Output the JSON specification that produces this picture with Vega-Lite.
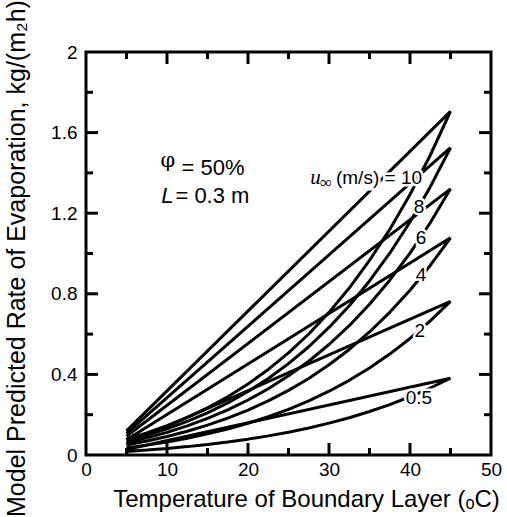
{
"$schema": "https://vega.github.io/schema/vega-lite/v6.json",
"width": 405, "height": 403, "autosize": "none",
"padding": {"left": 86, "top": 52, "right": 16, "bottom": 62},
"background": "white",
"config": {"view": {"stroke": "black", "strokeWidth": 3}, "font": "Liberation Sans",
 "axis": {"grid": false, "domain": false, "ticks": false, "labelColor": "black", "titleColor": "black"}},
"datasets": {
"curves": [
{"u":"10","o":0,"T":5,"r":0.12},{"u":"10","o":1,"T":45,"r":1.705},{"u":"10","o":2,"T":42.5,"r":1.4876},{"u":"10","o":3,"T":40,"r":1.2931},{"u":"10","o":4,"T":37.5,"r":1.1197},{"u":"10","o":5,"T":35,"r":0.9655},{"u":"10","o":6,"T":32.5,"r":0.8285},{"u":"10","o":7,"T":30,"r":0.7079},{"u":"10","o":8,"T":27.5,"r":0.6005},{"u":"10","o":9,"T":25,"r":0.5071},{"u":"10","o":10,"T":22.5,"r":0.4245},{"u":"10","o":11,"T":20,"r":0.3523},{"u":"10","o":12,"T":17.5,"r":0.2888},{"u":"10","o":13,"T":15,"r":0.2341},{"u":"10","o":14,"T":12.5,"r":0.1864},{"u":"10","o":15,"T":10,"r":0.1451},{"u":"10","o":16,"T":7.5,"r":0.1096},{"u":"10","o":17,"T":5,"r":0.0788},
{"u":"8","o":0,"T":5,"r":0.107},{"u":"8","o":1,"T":45,"r":1.525},{"u":"8","o":2,"T":42.5,"r":1.3306},{"u":"8","o":3,"T":40,"r":1.1566},{"u":"8","o":4,"T":37.5,"r":1.0015},{"u":"8","o":5,"T":35,"r":0.8636},{"u":"8","o":6,"T":32.5,"r":0.741},{"u":"8","o":7,"T":30,"r":0.6332},{"u":"8","o":8,"T":27.5,"r":0.5371},{"u":"8","o":9,"T":25,"r":0.4535},{"u":"8","o":10,"T":22.5,"r":0.3797},{"u":"8","o":11,"T":20,"r":0.3151},{"u":"8","o":12,"T":17.5,"r":0.2583},{"u":"8","o":13,"T":15,"r":0.2094},{"u":"8","o":14,"T":12.5,"r":0.1667},{"u":"8","o":15,"T":10,"r":0.1298},{"u":"8","o":16,"T":7.5,"r":0.0981},{"u":"8","o":17,"T":5,"r":0.0705},
{"u":"6","o":0,"T":5,"r":0.093},{"u":"6","o":1,"T":45,"r":1.321},{"u":"6","o":2,"T":42.5,"r":1.1526},{"u":"6","o":3,"T":40,"r":1.0018},{"u":"6","o":4,"T":37.5,"r":0.8675},{"u":"6","o":5,"T":35,"r":0.7481},{"u":"6","o":6,"T":32.5,"r":0.6419},{"u":"6","o":7,"T":30,"r":0.5485},{"u":"6","o":8,"T":27.5,"r":0.4653},{"u":"6","o":9,"T":25,"r":0.3929},{"u":"6","o":10,"T":22.5,"r":0.3289},{"u":"6","o":11,"T":20,"r":0.2729},{"u":"6","o":12,"T":17.5,"r":0.2238},{"u":"6","o":13,"T":15,"r":0.1814},{"u":"6","o":14,"T":12.5,"r":0.1444},{"u":"6","o":15,"T":10,"r":0.1124},{"u":"6","o":16,"T":7.5,"r":0.0849},{"u":"6","o":17,"T":5,"r":0.061},
{"u":"4","o":0,"T":5,"r":0.076},{"u":"4","o":1,"T":45,"r":1.078},{"u":"4","o":2,"T":42.5,"r":0.9406},{"u":"4","o":3,"T":40,"r":0.8176},{"u":"4","o":4,"T":37.5,"r":0.7079},{"u":"4","o":5,"T":35,"r":0.6105},{"u":"4","o":6,"T":32.5,"r":0.5238},{"u":"4","o":7,"T":30,"r":0.4476},{"u":"4","o":8,"T":27.5,"r":0.3797},{"u":"4","o":9,"T":25,"r":0.3206},{"u":"4","o":10,"T":22.5,"r":0.2684},{"u":"4","o":11,"T":20,"r":0.2227},{"u":"4","o":12,"T":17.5,"r":0.1826},{"u":"4","o":13,"T":15,"r":0.148},{"u":"4","o":14,"T":12.5,"r":0.1178},{"u":"4","o":15,"T":10,"r":0.0917},{"u":"4","o":16,"T":7.5,"r":0.0693},{"u":"4","o":17,"T":5,"r":0.0498},
{"u":"2","o":0,"T":5,"r":0.054},{"u":"2","o":1,"T":45,"r":0.7625},{"u":"2","o":2,"T":42.5,"r":0.6653},{"u":"2","o":3,"T":40,"r":0.5783},{"u":"2","o":4,"T":37.5,"r":0.5007},{"u":"2","o":5,"T":35,"r":0.4318},{"u":"2","o":6,"T":32.5,"r":0.3705},{"u":"2","o":7,"T":30,"r":0.3166},{"u":"2","o":8,"T":27.5,"r":0.2686},{"u":"2","o":9,"T":25,"r":0.2268},{"u":"2","o":10,"T":22.5,"r":0.1899},{"u":"2","o":11,"T":20,"r":0.1575},{"u":"2","o":12,"T":17.5,"r":0.1292},{"u":"2","o":13,"T":15,"r":0.1047},{"u":"2","o":14,"T":12.5,"r":0.0833},{"u":"2","o":15,"T":10,"r":0.0649},{"u":"2","o":16,"T":7.5,"r":0.049},{"u":"2","o":17,"T":5,"r":0.0352},
{"u":"0.5","o":0,"T":5,"r":0.027},{"u":"0.5","o":1,"T":45,"r":0.381},{"u":"0.5","o":2,"T":42.5,"r":0.3324},{"u":"0.5","o":3,"T":40,"r":0.289},{"u":"0.5","o":4,"T":37.5,"r":0.2502},{"u":"0.5","o":5,"T":35,"r":0.2158},{"u":"0.5","o":6,"T":32.5,"r":0.1851},{"u":"0.5","o":7,"T":30,"r":0.1582},{"u":"0.5","o":8,"T":27.5,"r":0.1342},{"u":"0.5","o":9,"T":25,"r":0.1133},{"u":"0.5","o":10,"T":22.5,"r":0.0949},{"u":"0.5","o":11,"T":20,"r":0.0787},{"u":"0.5","o":12,"T":17.5,"r":0.0645},{"u":"0.5","o":13,"T":15,"r":0.0523},{"u":"0.5","o":14,"T":12.5,"r":0.0416},{"u":"0.5","o":15,"T":10,"r":0.0324},{"u":"0.5","o":16,"T":7.5,"r":0.0245},{"u":"0.5","o":17,"T":5,"r":0.0176}
],
"xmaj": [{"v":10},{"v":20},{"v":30},{"v":40}],
"xmin": [{"v":5},{"v":15},{"v":25},{"v":35},{"v":45}],
"ymaj": [{"v":0.4},{"v":0.8},{"v":1.2},{"v":1.6}],
"ymin": [{"v":0.2},{"v":0.6},{"v":1},{"v":1.4},{"v":1.8}],
"labels": [
{"t":"8","T":41.1,"r":1.232},{"t":"6","T":41.35,"r":1.075},{"t":"4","T":41.35,"r":0.893},{"t":"2","T":41.2,"r":0.616},{"t":"0.5","T":41.1,"r":0.285}
],
"ulabel": [{"t":"(m/s) = 10","T":30.86,"r":1.345}],
"uitalic": [{"t":"u","T":27.7,"r":1.345}],
"infty": [{"t":"∞","T":28.9,"r":1.327}],
"phi": [{"t":"φ","T":9.2,"r":1.429}],
"plain": [{"t":"= 50%","T":11.8,"r":1.39},{"t":"= 0.3 m","T":11.04,"r":1.249}],
"litalic": [{"t":"L","T":9.3,"r":1.249}]
},
"layer": [
{"data": {"name": "curves"},
 "mark": {"type": "line", "color": "black", "strokeWidth": 3, "strokeJoin": "bevel", "strokeCap": "butt"},
 "encoding": {
  "x": {"field": "T", "type": "quantitative", "scale": {"domain": [0, 50], "nice": false},
   "axis": {"orient": "bottom", "values": [0,10,20,30,40,50],
    "labelFontSize": 19, "labelPadding": 5, "labelFlush": false,
    "title": "Temperature of Boundary Layer (ₒC)", "titleFontSize": 24, "titleFontWeight": "normal",
    "titleX": 220, "titleY": 51, "titleBaseline": "alphabetic"}},
  "y": {"field": "r", "type": "quantitative", "scale": {"domain": [0, 2], "nice": false},
   "axis": {"orient": "left", "values": [0,0.4,0.8,1.2,1.6,2], "format": "~g",
    "labelFontSize": 19, "labelPadding": 9, "labelFlush": false,
    "title": "Model Predicted Rate of Evaporation, kg/(m₂h)", "titleFontSize": 25, "titleFontWeight": "normal",
    "titleAngle": -90, "titleX": -62, "titleY": 206, "titleBaseline": "alphabetic", "titleAlign": "center"}},
  "detail": {"field": "u"},
  "order": {"field": "o"}
 }},
{"data": {"name": "xmaj"}, "mark": {"type": "tick", "orient": "vertical", "color": "black", "thickness": 3, "opacity": 1},
 "encoding": {"x": {"field": "v", "type": "quantitative"}, "y": {"datum": 0.0298, "type": "quantitative"}, "size": {"value": 12}}},
{"data": {"name": "xmaj"}, "mark": {"type": "tick", "orient": "vertical", "color": "black", "thickness": 3, "opacity": 1},
 "encoding": {"x": {"field": "v", "type": "quantitative"}, "y": {"datum": 1.9702, "type": "quantitative"}, "size": {"value": 12}}},
{"data": {"name": "xmin"}, "mark": {"type": "tick", "orient": "vertical", "color": "black", "thickness": 3, "opacity": 1},
 "encoding": {"x": {"field": "v", "type": "quantitative"}, "y": {"datum": 0.0174, "type": "quantitative"}, "size": {"value": 7}}},
{"data": {"name": "xmin"}, "mark": {"type": "tick", "orient": "vertical", "color": "black", "thickness": 3, "opacity": 1},
 "encoding": {"x": {"field": "v", "type": "quantitative"}, "y": {"datum": 1.9826, "type": "quantitative"}, "size": {"value": 7}}},
{"data": {"name": "ymaj"}, "mark": {"type": "tick", "orient": "horizontal", "color": "black", "thickness": 3, "opacity": 1},
 "encoding": {"y": {"field": "v", "type": "quantitative"}, "x": {"datum": 0.741, "type": "quantitative"}, "size": {"value": 12}}},
{"data": {"name": "ymaj"}, "mark": {"type": "tick", "orient": "horizontal", "color": "black", "thickness": 3, "opacity": 1},
 "encoding": {"y": {"field": "v", "type": "quantitative"}, "x": {"datum": 49.259, "type": "quantitative"}, "size": {"value": 12}}},
{"data": {"name": "ymin"}, "mark": {"type": "tick", "orient": "horizontal", "color": "black", "thickness": 3, "opacity": 1},
 "encoding": {"y": {"field": "v", "type": "quantitative"}, "x": {"datum": 0.432, "type": "quantitative"}, "size": {"value": 7}}},
{"data": {"name": "ymin"}, "mark": {"type": "tick", "orient": "horizontal", "color": "black", "thickness": 3, "opacity": 1},
 "encoding": {"y": {"field": "v", "type": "quantitative"}, "x": {"datum": 49.568, "type": "quantitative"}, "size": {"value": 7}}},
{"data": {"name": "labels"},
 "mark": {"type": "text", "fontSize": 19, "align": "center", "baseline": "middle", "color": "white", "stroke": "white", "strokeWidth": 5},
 "encoding": {"x": {"field": "T", "type": "quantitative"}, "y": {"field": "r", "type": "quantitative"}, "text": {"field": "t"}}},
{"data": {"name": "labels"},
 "mark": {"type": "text", "fontSize": 19, "align": "center", "baseline": "middle", "color": "black"},
 "encoding": {"x": {"field": "T", "type": "quantitative"}, "y": {"field": "r", "type": "quantitative"}, "text": {"field": "t"}}},
{"data": {"name": "ulabel"},
 "mark": {"type": "text", "fontSize": 19, "align": "left", "baseline": "alphabetic", "color": "white", "stroke": "white", "strokeWidth": 5},
 "encoding": {"x": {"field": "T", "type": "quantitative"}, "y": {"field": "r", "type": "quantitative"}, "text": {"field": "t"}}},
{"data": {"name": "ulabel"},
 "mark": {"type": "text", "fontSize": 19, "align": "left", "baseline": "alphabetic", "color": "black"},
 "encoding": {"x": {"field": "T", "type": "quantitative"}, "y": {"field": "r", "type": "quantitative"}, "text": {"field": "t"}}},
{"data": {"name": "uitalic"},
 "mark": {"type": "text", "fontSize": 21, "font": "Liberation Serif", "fontStyle": "italic", "align": "left", "baseline": "alphabetic", "color": "black"},
 "encoding": {"x": {"field": "T", "type": "quantitative"}, "y": {"field": "r", "type": "quantitative"}, "text": {"field": "t"}}},
{"data": {"name": "infty"},
 "mark": {"type": "text", "fontSize": 17, "font": "Liberation Serif", "align": "left", "baseline": "alphabetic", "color": "black"},
 "encoding": {"x": {"field": "T", "type": "quantitative"}, "y": {"field": "r", "type": "quantitative"}, "text": {"field": "t"}}},
{"data": {"name": "phi"},
 "mark": {"type": "text", "fontSize": 21, "font": "DejaVu Serif", "align": "left", "baseline": "alphabetic", "color": "black"},
 "encoding": {"x": {"field": "T", "type": "quantitative"}, "y": {"field": "r", "type": "quantitative"}, "text": {"field": "t"}}},
{"data": {"name": "plain"},
 "mark": {"type": "text", "fontSize": 22, "align": "left", "baseline": "alphabetic", "color": "black"},
 "encoding": {"x": {"field": "T", "type": "quantitative"}, "y": {"field": "r", "type": "quantitative"}, "text": {"field": "t"}}},
{"data": {"name": "litalic"},
 "mark": {"type": "text", "fontSize": 22, "fontStyle": "italic", "align": "left", "baseline": "alphabetic", "color": "black"},
 "encoding": {"x": {"field": "T", "type": "quantitative"}, "y": {"field": "r", "type": "quantitative"}, "text": {"field": "t"}}}
]
}
